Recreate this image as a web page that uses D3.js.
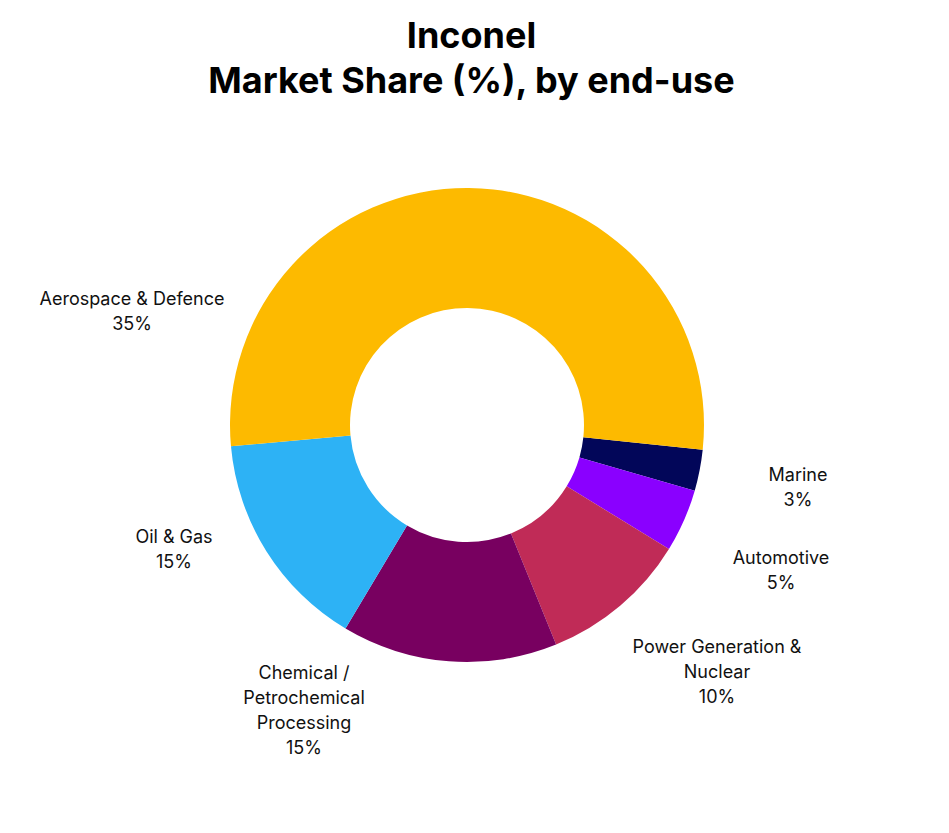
<!DOCTYPE html>
<html><head><meta charset="utf-8">
<script src="https://cdn.jsdelivr.net/npm/d3@7"></script>
<style>body{margin:0;background:#fff;font-family:Inter,"Noto Sans",sans-serif;}</style>
</head><body>
<script>
// slice data (clockwise from the right side)
var categories = ['Marine','Automotive','Power Generation & Nuclear','Chemical / Petrochemical Processing','Oil & Gas','Aerospace & Defence'];
var values = [2.8, 4.3, 10.1, 14.7, 15, 53.1];   // drawn share
var labels = ['3%','5%','10%','15%','15%','35%'];  // printed labels
var colors = ['#020659','#8a00ff','#c02b57','#780060','#2db2f5','#fdba00'];
var labelLines = [['Marine'],['Automotive'],['Power Generation &','Nuclear'],['Chemical /','Petrochemical','Processing'],['Oil & Gas'],['Aerospace & Defence']];
var labelXY = [[798,481],[781,564],[717,653],[304,679],[174,543],[132,305]];

var w = 949, h = 833;
var cx = 467, cy = 425, R = 237, r = 117;

var svg = d3.select('body').append('svg').attr('width',w).attr('height',h);

svg.append('text').attr('x',w/2 - 3).attr('y',48).attr('text-anchor','middle')
  .style('font-size','36px').style('font-weight','bold').text('Inconel');
svg.append('text').attr('x',w/2 - 3).attr('y',93).attr('text-anchor','middle')
  .style('font-size','36px').style('font-weight','bold').text('Market Share (%), by end-use');

var start = 96 * Math.PI/180;
var pie = d3.pie().sort(null).startAngle(start).endAngle(start + 2*Math.PI);
var arc = d3.arc().innerRadius(r).outerRadius(R);

var g = svg.append('g').attr('transform','translate('+cx+','+cy+')');
g.selectAll('path').data(pie(values)).enter()
  .append('path')
  .attr('d', arc)
  .attr('fill', function(d,i){ return colors[i]; });

categories.forEach(function(c,i){
  var t = svg.append('text').attr('text-anchor','middle')
    .attr('x',labelXY[i][0]).attr('y',labelXY[i][1])
    .style('font-size','18px').attr('fill','#111');
  var lines = labelLines[i].concat([labels[i]]);
  lines.forEach(function(s,j){
    t.append('tspan').attr('x',labelXY[i][0]).attr('dy', j ? 25 : 0).text(s);
  });
});
</script>
</body></html>
